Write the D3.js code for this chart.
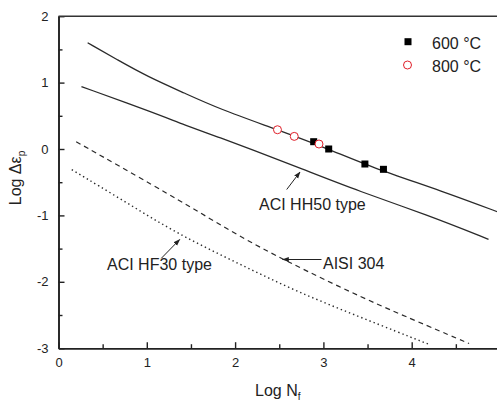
<!DOCTYPE html>
<html><head><meta charset="utf-8">
<script src="https://cdn.jsdelivr.net/npm/d3@7"></script>
<style>body{margin:0;background:#fff;}svg{display:block;font-family:"Liberation Sans",Arial,sans-serif;}</style>
</head><body>
<script>
// Data (Log Nf, Log Δεp)
const upperLine = [[0.33,1.60],[0.67,1.34],[1.01,1.09],[1.43,0.84],[1.81,0.61],[2.48,0.29],[3.06,0.0],[3.53,-0.27],[4.36,-0.64],[5.02,-0.97]];
const hh50Line = [[0.26,0.94],[1.09,0.54],[1.43,0.36],[1.81,0.18],[2.17,0.0],[2.74,-0.29],[3.41,-0.64],[4.17,-0.99],[4.87,-1.36]];
const aisi304Line = [[0.20,0.11],[1.13,-0.59],[1.58,-0.94],[2.03,-1.30],[2.55,-1.67],[3.45,-2.25],[4.21,-2.68],[4.65,-2.93]];
const hf30Line = [[0.15,-0.31],[0.75,-0.79],[1.35,-1.28],[2.03,-1.72],[2.70,-2.15],[3.45,-2.55],[4.21,-2.95]];
const pts600 = [[2.89,0.11],[3.06,0.0],[3.47,-0.226],[3.68,-0.306]];
const pts800 = [[2.48,0.29],[2.67,0.19],[2.95,0.075]];
const xTicks = [0,1,2,3,4,5];
const yTicks = [-3,-2,-1,0,1,2];
const xMinor = [0.5,1.5,2.5,3.5,4.5];
const yMinor = [-2.5,-1.5,-0.5,0.5,1.5];
const legendLabels = ["600 °C","800 °C"];

const W = 497, H = 401;
const svg = d3.select("body").append("svg").attr("width", W).attr("height", H);
const x = d3.scaleLinear().domain([0,5]).range([58.5,500]);
const y = d3.scaleLinear().domain([-3,2]).range([348.2,16.2]);

svg.append("defs").append("marker").attr("id","ah").attr("viewBox","0 0 10 10")
  .attr("refX",9).attr("refY",5).attr("markerWidth",7).attr("markerHeight",7).attr("orient","auto")
  .append("path").attr("d","M0,1.5 L10,5 L0,8.5 Z").attr("fill","#222");

const line = d3.line().x(d=>x(d[0])).y(d=>y(d[1])).curve(d3.curveBasis);
const ink = "#2a2a2a";
svg.append("path").attr("d", line(upperLine)).attr("fill","none").attr("stroke",ink).attr("stroke-width",1.3);
svg.append("path").attr("d", line(hh50Line)).attr("fill","none").attr("stroke",ink).attr("stroke-width",1.3);
svg.append("path").attr("d", line(aisi304Line)).attr("fill","none").attr("stroke",ink).attr("stroke-width",1.2).attr("stroke-dasharray","5,4");
svg.append("path").attr("d", line(hf30Line)).attr("fill","none").attr("stroke",ink).attr("stroke-width",1.4).attr("stroke-dasharray","1.4,3");

// markers
svg.selectAll("rect.p600").data(pts600).enter().append("rect")
  .attr("x",d=>x(d[0])-3.5).attr("y",d=>y(d[1])-3.5).attr("width",7).attr("height",7).attr("fill","#000");
svg.selectAll("circle.p800").data(pts800).enter().append("circle")
  .attr("cx",d=>x(d[0])).attr("cy",d=>y(d[1])).attr("r",4).attr("fill","#fff").attr("stroke","#e0202a").attr("stroke-width",1);

// axes
const fs = "13px";
const fmt = d => String(d);
const gx = svg.append("g").attr("transform",`translate(0,${y(-3)})`)
  .call(d3.axisBottom(x).tickValues(xTicks).tickSizeInner(-6).tickSizeOuter(0).tickPadding(10).tickFormat(fmt));
const gxm = svg.append("g").attr("transform",`translate(0,${y(-3)})`)
  .call(d3.axisBottom(x).tickValues(xMinor).tickSizeInner(-4).tickSizeOuter(0).tickFormat(""));
const gy = svg.append("g").attr("transform",`translate(${x(0)},0)`)
  .call(d3.axisLeft(y).tickValues(yTicks).tickSizeInner(-6).tickSizeOuter(0).tickPadding(10).tickFormat(fmt));
const gym = svg.append("g").attr("transform",`translate(${x(0)},0)`)
  .call(d3.axisLeft(y).tickValues(yMinor).tickSizeInner(-4).tickSizeOuter(0).tickFormat(""));
[gx,gxm,gy,gym].forEach(g=>{
  g.selectAll("path.domain").attr("stroke","#222").attr("stroke-width",1.6);
  g.selectAll("line").attr("stroke","#222").attr("stroke-width",1.4);
  g.selectAll("text").attr("font-size",fs).attr("fill","#222").attr("font-family","Liberation Sans, Arial, sans-serif");
});
// top and right frame
svg.append("line").attr("x1",x(0)).attr("x2",x(5)).attr("y1",y(2)).attr("y2",y(2)).attr("stroke","#333").attr("stroke-width",1.6);
svg.append("line").attr("x1",x(5)).attr("x2",x(5)).attr("y1",y(2)).attr("y2",y(-3)).attr("stroke","#333").attr("stroke-width",1.6);

// axis titles
const xt = svg.append("text").attr("x",255).attr("y",396).attr("font-size","16px").attr("fill","#222");
xt.append("tspan").text("Log N");
xt.append("tspan").text("f").attr("font-size","10px").attr("dy",4);
const yt = svg.append("text").attr("transform","translate(21,178) rotate(-90)").attr("text-anchor","middle").attr("font-size","16px").attr("fill","#222");
yt.append("tspan").text("Log Δε");
yt.append("tspan").text("p").attr("font-size","10px").attr("dy",4);

// legend
const lg = svg.append("g");
lg.append("rect").attr("x",404.5).attr("y",38.2).attr("width",7).attr("height",7).attr("fill","#000");
lg.append("circle").attr("cx",407.5).attr("cy",65).attr("r",4).attr("fill","#fff").attr("stroke","#e0202a").attr("stroke-width",1);
lg.selectAll("text").data(legendLabels).enter().append("text")
  .attr("x",432).attr("y",(d,i)=>48.5+i*23).attr("font-size","16px").attr("fill","#222").text(d=>d);

// annotations
function annot(label, tx, ty, ax1, ay1, ax2, ay2){
  svg.append("text").attr("x",tx).attr("y",ty).attr("font-size","16px").attr("fill","#222").text(label);
  svg.append("line").attr("x1",ax1).attr("y1",ay1).attr("x2",ax2).attr("y2",ay2)
    .attr("stroke","#222").attr("stroke-width",1).attr("marker-end","url(#ah)");
}
annot("ACI HH50 type", 259, 209.5, 286.7, 189.5, 300, 172);
annot("ACI HF30 type", 107, 270, 161.3, 258.3, 179.7, 239.5);
annot("AISI 304", 323, 269, 321.5, 259.5, 282.5, 259.5);
</script>
</body></html>
